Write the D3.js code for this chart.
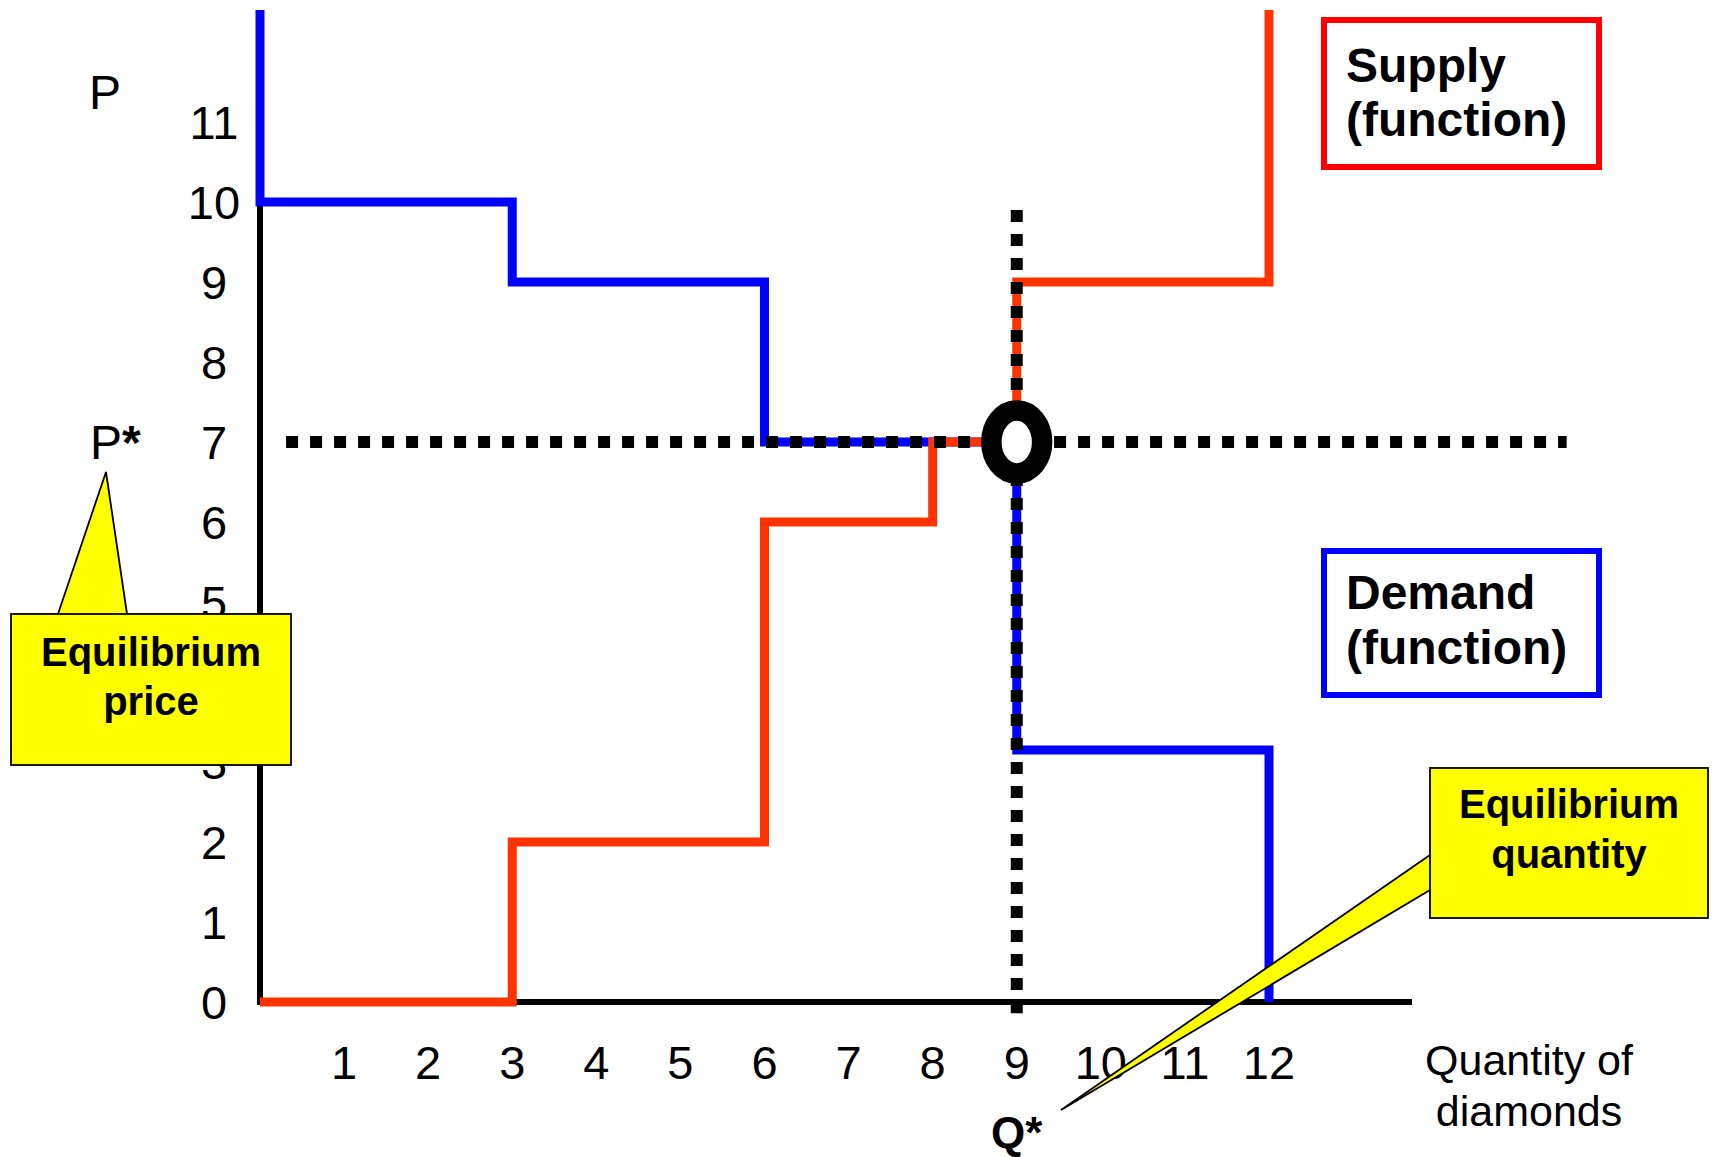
<!DOCTYPE html>
<html>
<head>
<meta charset="utf-8">
<script src="https://cdn.jsdelivr.net/npm/d3@7/dist/d3.min.js"></script>
<style>
  html, body { margin: 0; padding: 0; background: #fff; }
  svg { display: block; font-family: "Liberation Sans", Arial, sans-serif; }
</style>
</head>
<body>
<svg id="chart" width="1712" height="1157"></svg>
<script>
// Units of diamonds (1..12) and the price attached to each unit
const units = [1, 2, 3, 4, 5, 6, 7, 8, 9, 10, 11, 12];
const demandPrices = [10, 10, 10, 9, 9, 9, 7, 7, 7, 3.15, 3.15, 3.15];
const supplyPrices = [0, 0, 0, 2, 2, 2, 6, 6, 7, 9, 9, 9];

// Axis tick labels
const priceTicks = [0, 1, 2, 3, 4, 5, 6, 7, 8, 9, 10, 11];
const quantityTicks = [1, 2, 3, 4, 5, 6, 7, 8, 9, 10, 11, 12];

// Equilibrium
const eqPrice = 7;
const eqQuantity = 9;
const priceCeiling = 12.4;   // curves run off the top at this price

const svg = d3.select("#chart");

const x = d3.scaleLinear().domain([0, 12]).range([260, 1269]);
const y = d3.scaleLinear().domain([0, 12.5]).range([1002, 2]);

const line = d3.line().x(d => x(d[0])).y(d => y(d[1]));

// Build step paths from per-unit prices
function steps(prices) {
  const pts = [];
  prices.forEach((p, i) => { pts.push([units[i] - 1, p]); pts.push([units[i], p]); });
  return pts;
}
const lastUnit = units[units.length - 1];
const demandPts = [[0, priceCeiling], ...steps(demandPrices), [lastUnit, 0]];
const supplyPts = [...steps(supplyPrices), [lastUnit, priceCeiling]];

// Axes
svg.append("line")
  .attr("x1", x(0)).attr("x2", x(0))
  .attr("y1", y(10)).attr("y2", y(0) + 3)
  .attr("stroke", "#000").attr("stroke-width", 6);
svg.append("line")
  .attr("x1", x(0) - 3).attr("x2", x(13.7))
  .attr("y1", y(0)).attr("y2", y(0))
  .attr("stroke", "#000").attr("stroke-width", 6);

// Price tick labels
svg.append("g").selectAll("text").data(priceTicks).join("text")
  .attr("x", 214).attr("y", d => y(d))
  .attr("dy", "0.36em")
  .attr("text-anchor", "middle")
  .attr("font-size", 47)
  .text(d => d);

// Quantity tick labels
svg.append("g").selectAll("text").data(quantityTicks).join("text")
  .attr("x", d => x(d)).attr("y", 1079)
  .attr("text-anchor", "middle")
  .attr("font-size", 47)
  .text(d => d);

// Axis titles
svg.append("text").attr("x", 105).attr("y", 109)
  .attr("text-anchor", "middle").attr("font-size", 48).text("P");
const pStar = svg.append("text").attr("x", 90).attr("y", y(eqPrice)).attr("dy", "0.36em")
  .attr("font-size", 48);
pStar.append("tspan").text("P");
pStar.append("tspan").attr("font-weight", "bold").text("*");
svg.append("text").attr("x", 1529).attr("y", 1075)
  .attr("text-anchor", "middle").attr("font-size", 43).text("Quantity of");
svg.append("text").attr("x", 1529).attr("y", 1126)
  .attr("text-anchor", "middle").attr("font-size", 43).text("diamonds");
svg.append("text").attr("x", x(eqQuantity)).attr("y", 1148)
  .attr("text-anchor", "middle").attr("font-size", 44).attr("font-weight", "bold").text("Q*");

// Demand and supply step functions
svg.append("path").attr("d", line(demandPts))
  .attr("fill", "none").attr("stroke", "#0000FF").attr("stroke-width", 9)
  .attr("stroke-linejoin", "miter");
svg.append("path").attr("d", line(supplyPts))
  .attr("fill", "none").attr("stroke", "#FF3300").attr("stroke-width", 9)
  .attr("stroke-linejoin", "miter");

// Dotted guide lines through the equilibrium
svg.append("line")
  .attr("x1", x(0.31)).attr("x2", x(15.54))
  .attr("y1", y(eqPrice)).attr("y2", y(eqPrice))
  .attr("stroke", "#000").attr("stroke-width", 12).attr("stroke-dasharray", "12 12");
svg.append("line")
  .attr("x1", x(eqQuantity)).attr("x2", x(eqQuantity))
  .attr("y1", y(9.9)).attr("y2", y(-0.14))
  .attr("stroke", "#000").attr("stroke-width", 12).attr("stroke-dasharray", "12 12");

// Equilibrium marker
svg.append("ellipse")
  .attr("cx", x(eqQuantity)).attr("cy", y(eqPrice))
  .attr("rx", 25.4).attr("ry", 31.5)
  .attr("fill", "#fff").attr("stroke", "#000").attr("stroke-width", 20.5);

// Labelled boxes for the two functions
function labelBox(bx, by, w, h, color, lines, baselines) {
  svg.append("rect").attr("x", bx).attr("y", by).attr("width", w).attr("height", h)
    .attr("fill", "#fff").attr("stroke", color).attr("stroke-width", 6);
  lines.forEach((t, i) => {
    svg.append("text").attr("x", bx + 22).attr("y", baselines[i])
      .attr("font-size", 48).attr("font-weight", "bold").text(t);
  });
}
labelBox(1324, 20, 275, 147, "#FF0000", ["Supply", "(function)"], [82, 136]);
labelBox(1324, 551, 275, 144, "#0000FF", ["Demand", "(function)"], [609, 664]);

// Callouts
function callout(bx, by, w, h, pointer, lines, baselines) {
  const g = svg.append("g");
  g.append("path")
    .attr("d", d3.line()(pointer))
    .attr("fill", "#FFFF00").attr("stroke", "#000").attr("stroke-width", 1.8)
    .attr("stroke-linejoin", "miter");
  g.append("rect").attr("x", bx).attr("y", by).attr("width", w).attr("height", h)
    .attr("fill", "#FFFF00").attr("stroke", "#000").attr("stroke-width", 1.8);
  const cx = bx + w / 2;
  lines.forEach((t, i) => {
    g.append("text").attr("x", cx).attr("y", baselines[i])
      .attr("text-anchor", "middle").attr("font-size", 40).attr("font-weight", "bold").text(t);
  });
}
callout(11, 614, 280, 151,
  [[58, 614], [106, 472], [127, 614]],
  ["Equilibrium", "price"], [666, 715]);
callout(1430, 768, 278, 150,
  [[1430, 855], [1061, 1110], [1430, 890]],
  ["Equilibrium", "quantity"], [818, 868]);
</script>
</body>
</html>
